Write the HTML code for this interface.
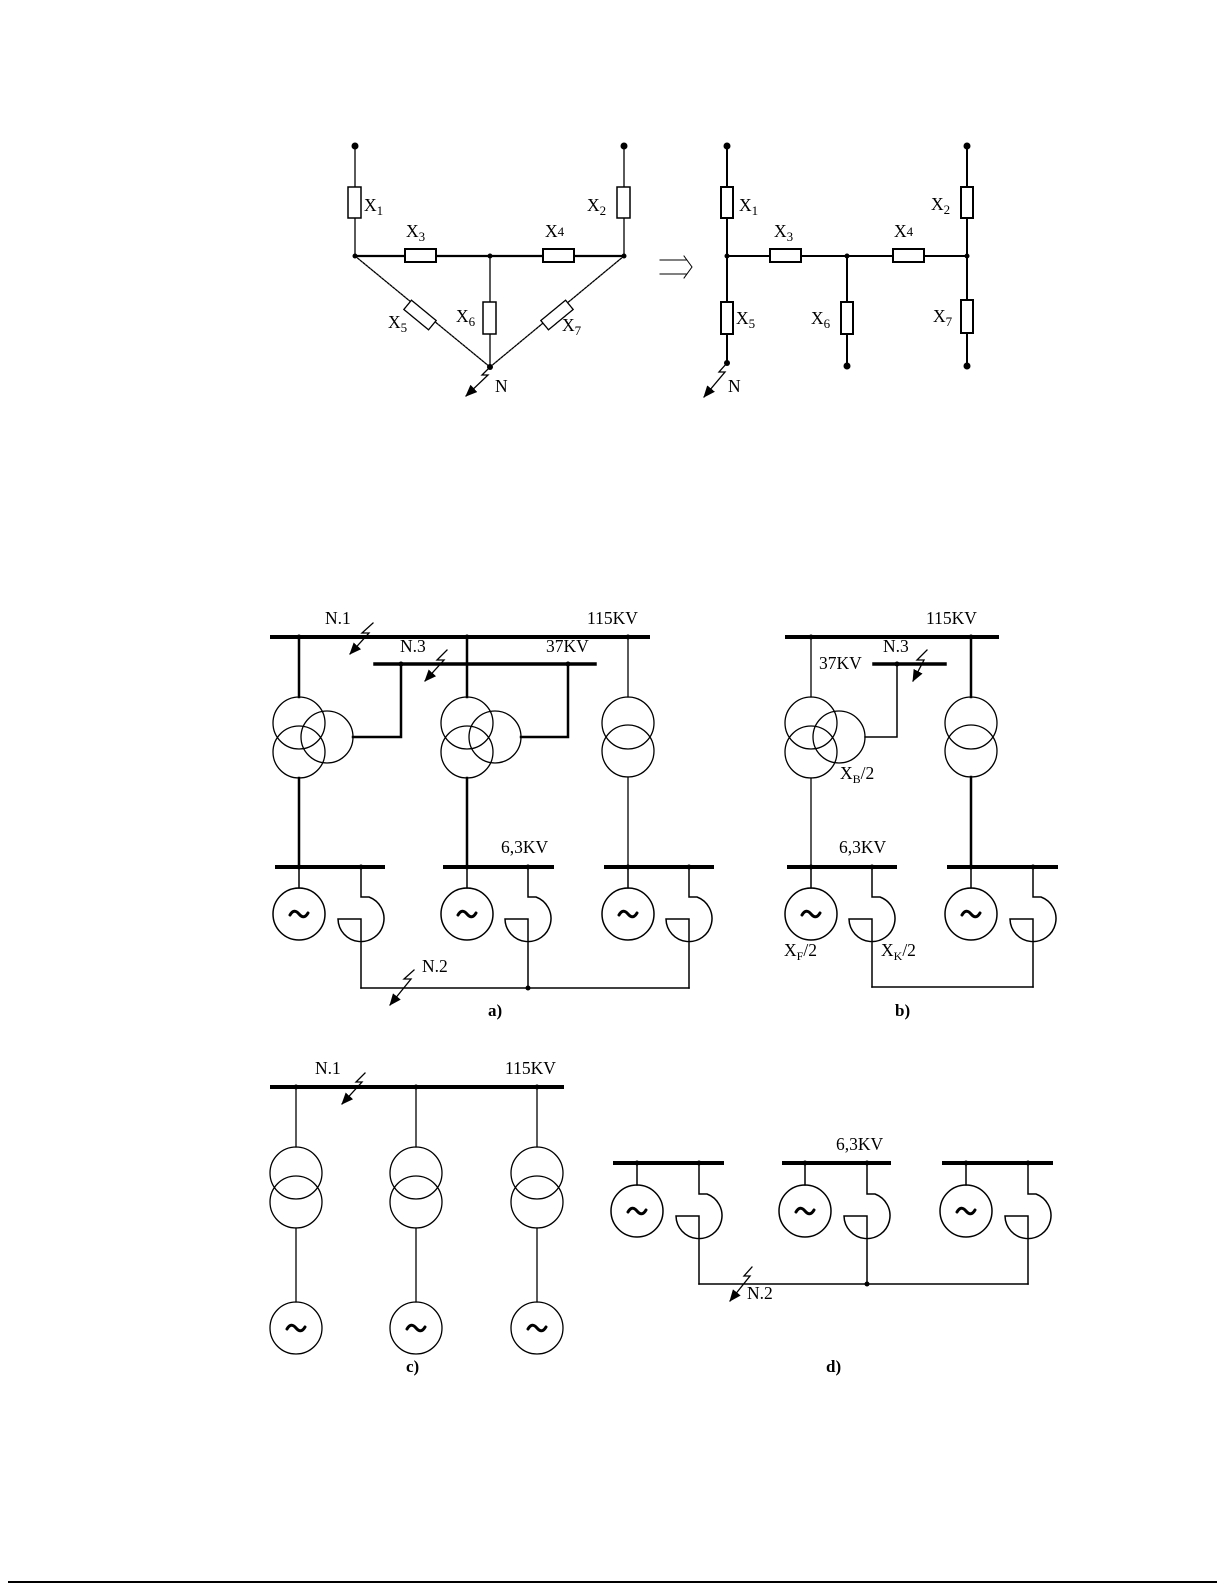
<!DOCTYPE html>
<html><head><meta charset="utf-8">
<style>
html,body{margin:0;padding:0;background:#fff;}
svg{display:block;}
text{font-family:"Liberation Serif",serif;font-size:17.5px;fill:#000;}
.b{font-weight:bold;font-size:17px;}
</style></head><body>
<svg width="1225" height="1585" viewBox="0 0 1225 1585" xmlns="http://www.w3.org/2000/svg">
<defs>
<marker id="ah" markerWidth="12" markerHeight="10" refX="11" refY="5" orient="auto" markerUnits="userSpaceOnUse">
<path d="M0,0 L12,5 L0,10 Z" fill="#000"/>
</marker>
</defs>
<line x1="8" y1="1582" x2="1217" y2="1582" stroke="#000" stroke-width="2"/>
<g fill="none" stroke="#000" stroke-linecap="square">

<!-- ===== TOP LEFT (delta) ===== -->
<g stroke-width="1.3">
<line x1="355" y1="146" x2="355" y2="187"/>
<line x1="355" y1="218" x2="355" y2="256"/>
<line x1="624" y1="146" x2="624" y2="187"/>
<line x1="624" y1="218" x2="624" y2="256"/>
<line x1="490" y1="256" x2="490" y2="302"/>
<line x1="490" y1="334" x2="490" y2="367"/>
<line x1="355" y1="256" x2="490" y2="367" stroke-dasharray="2,1.5"/>
<line x1="624" y1="256" x2="490" y2="367" stroke-dasharray="2,1.5"/>
</g>
<line x1="355" y1="256" x2="624" y2="256" stroke-width="2.2"/>
<rect x="348" y="187" width="13" height="31" fill="#fff" stroke-width="1.5"/>
<rect x="617" y="187" width="13" height="31" fill="#fff" stroke-width="1.5"/>
<rect x="405" y="249" width="31" height="13" fill="#fff" stroke-width="2"/>
<rect x="543" y="249" width="31" height="13" fill="#fff" stroke-width="2"/>
<rect x="483" y="302" width="13" height="32" fill="#fff" stroke-width="1.5"/>
<rect x="-16" y="-6" width="32" height="12" fill="#fff" stroke-width="1.3" stroke-dasharray="2,1" transform="translate(420,315) rotate(39.5)"/>
<rect x="-16" y="-6" width="32" height="12" fill="#fff" stroke-width="1.3" stroke-dasharray="2,1" transform="translate(557,315) rotate(-39.5)"/>
<polyline points="490,367 482,375 488,375 466,396" stroke-width="1.3" marker-end="url(#ah)"/>

<!-- arrow => -->
<path d="M660,260 H686 M660,274 H686 M684,256 L692,267 L684,278" stroke-width="1"/>

<!-- ===== TOP RIGHT (star) ===== -->
<g stroke-width="2">
<line x1="727" y1="146" x2="727" y2="363"/>
<line x1="967" y1="146" x2="967" y2="366"/>
<line x1="847" y1="256" x2="847" y2="366"/>
<line x1="727" y1="256" x2="967" y2="256"/>
</g>
<g fill="#fff" stroke-width="2">
<rect x="721" y="187" width="12" height="31"/>
<rect x="961" y="187" width="12" height="31"/>
<rect x="721" y="302" width="12" height="32"/>
<rect x="841" y="302" width="12" height="32"/>
<rect x="961" y="300" width="12" height="33"/>
<rect x="770" y="249" width="31" height="13"/>
<rect x="893" y="249" width="31" height="13"/>
</g>
<polyline points="727,363 719,372 725,372 704,397" stroke-width="1.3" marker-end="url(#ah)"/>

<!-- ===== FIG a ===== -->
<line x1="272" y1="637" x2="648" y2="637" stroke-width="4"/>
<line x1="375" y1="664" x2="595" y2="664" stroke-width="3.5"/>
<polyline points="373,623 362,633 369,633 350,654" stroke-width="1.3" marker-end="url(#ah)"/>
<polyline points="447,650 437,660 444,660 425,681" stroke-width="1.3" marker-end="url(#ah)"/>
<line x1="299" y1="637" x2="299" y2="697" stroke-width="2.5"/>
<circle cx="299" cy="723" r="26" stroke-width="1.3"/>
<circle cx="299" cy="752" r="26" stroke-width="1.3"/>
<circle cx="327" cy="737" r="26" stroke-width="1.3"/>
<polyline points="353,737 401,737 401,664" stroke-width="2.5"/>
<line x1="299" y1="778" x2="299" y2="867" stroke-width="2.5"/>
<line x1="467" y1="637" x2="467" y2="697" stroke-width="2.5"/>
<circle cx="467" cy="723" r="26" stroke-width="1.3"/>
<circle cx="467" cy="752" r="26" stroke-width="1.3"/>
<circle cx="495" cy="737" r="26" stroke-width="1.3"/>
<polyline points="521,737 568,737 568,664" stroke-width="2.5"/>
<line x1="467" y1="778" x2="467" y2="867" stroke-width="2.5"/>
<line x1="628" y1="637" x2="628" y2="697" stroke-width="1.3"/>
<circle cx="628" cy="723" r="26" stroke-width="1.3"/>
<circle cx="628" cy="751" r="26" stroke-width="1.3"/>
<line x1="628" y1="777" x2="628" y2="867" stroke-width="1.3"/>
<line x1="277" y1="867" x2="383" y2="867" stroke-width="4"/>
<line x1="445" y1="867" x2="552" y2="867" stroke-width="4"/>
<line x1="606" y1="867" x2="712" y2="867" stroke-width="4"/>
<g stroke-width="1.5">
<line x1="299" y1="867" x2="299" y2="888"/><circle cx="299" cy="914" r="26"/>
<line x1="467" y1="867" x2="467" y2="888"/><circle cx="467" cy="914" r="26"/>
<line x1="628" y1="867" x2="628" y2="888"/><circle cx="628" cy="914" r="26"/>
</g>
<g stroke-width="1.5">
<path d="M361,867 V897 H369 A23,23 0 1 1 338,919 H361 V988"/>
<path d="M528,867 V897 H536 A23,23 0 1 1 505,919 H528 V988"/>
<path d="M689,867 V897 H697 A23,23 0 1 1 666,919 H689 V988"/>
<line x1="361" y1="988" x2="689" y2="988"/>
</g>
<polyline points="414,970 404,979 411,979 390,1005" stroke-width="1.3" marker-end="url(#ah)"/>

<!-- ===== FIG b ===== -->
<line x1="787" y1="637" x2="997" y2="637" stroke-width="4"/>
<line x1="874" y1="664" x2="945" y2="664" stroke-width="3.5"/>
<polyline points="927,650 917,660 924,660 913,681" stroke-width="1.3" marker-end="url(#ah)"/>
<line x1="811" y1="637" x2="811" y2="697" stroke-width="1.3"/>
<circle cx="811" cy="723" r="26" stroke-width="1.3"/>
<circle cx="811" cy="752" r="26" stroke-width="1.3"/>
<circle cx="839" cy="737" r="26" stroke-width="1.3"/>
<polyline points="865,737 897,737 897,664" stroke-width="1.5"/>
<line x1="811" y1="778" x2="811" y2="867" stroke-width="1.3"/>
<line x1="971" y1="637" x2="971" y2="697" stroke-width="2.5"/>
<circle cx="971" cy="723" r="26" stroke-width="1.3"/>
<circle cx="971" cy="751" r="26" stroke-width="1.3"/>
<line x1="971" y1="777" x2="971" y2="867" stroke-width="2.5"/>
<line x1="789" y1="867" x2="895" y2="867" stroke-width="4"/>
<line x1="949" y1="867" x2="1056" y2="867" stroke-width="4"/>
<g stroke-width="1.5">
<line x1="811" y1="867" x2="811" y2="888"/><circle cx="811" cy="914" r="26"/>
<line x1="971" y1="867" x2="971" y2="888"/><circle cx="971" cy="914" r="26"/>
<path d="M872,867 V897 H880 A23,23 0 1 1 849,919 H872 V987"/>
<path d="M1033,867 V897 H1041 A23,23 0 1 1 1010,919 H1033 V987"/>
<line x1="872" y1="987" x2="1033" y2="987"/>
</g>

<!-- ===== FIG c ===== -->
<line x1="272" y1="1087" x2="562" y2="1087" stroke-width="4"/>
<polyline points="365,1073 356,1082 362,1082 342,1104" stroke-width="1.3" marker-end="url(#ah)"/>
<g stroke-width="1.3">
<line x1="296" y1="1087" x2="296" y2="1147"/>
<circle cx="296" cy="1173" r="26"/><circle cx="296" cy="1202" r="26"/>
<line x1="296" y1="1228" x2="296" y2="1302"/><circle cx="296" cy="1328" r="26"/>
<line x1="416" y1="1087" x2="416" y2="1147"/>
<circle cx="416" cy="1173" r="26"/><circle cx="416" cy="1202" r="26"/>
<line x1="416" y1="1228" x2="416" y2="1302"/><circle cx="416" cy="1328" r="26"/>
<line x1="537" y1="1087" x2="537" y2="1147"/>
<circle cx="537" cy="1173" r="26"/><circle cx="537" cy="1202" r="26"/>
<line x1="537" y1="1228" x2="537" y2="1302"/><circle cx="537" cy="1328" r="26"/>
</g>

<!-- ===== FIG d ===== -->
<line x1="615" y1="1163" x2="722" y2="1163" stroke-width="4"/>
<line x1="784" y1="1163" x2="889" y2="1163" stroke-width="4"/>
<line x1="944" y1="1163" x2="1051" y2="1163" stroke-width="4"/>
<g stroke-width="1.5">
<line x1="637" y1="1163" x2="637" y2="1185"/><circle cx="637" cy="1211" r="26"/>
<line x1="805" y1="1163" x2="805" y2="1185"/><circle cx="805" cy="1211" r="26"/>
<line x1="966" y1="1163" x2="966" y2="1185"/><circle cx="966" cy="1211" r="26"/>
<path d="M699,1163 V1194 H707 A23,23 0 1 1 676,1216 H699 V1284"/>
<path d="M867,1163 V1194 H875 A23,23 0 1 1 844,1216 H867 V1284"/>
<path d="M1028,1163 V1194 H1036 A23,23 0 1 1 1005,1216 H1028 V1284"/>
<line x1="699" y1="1284" x2="1028" y2="1284"/>
</g>
<polyline points="752,1267 744,1276 750,1276 730,1301" stroke-width="1.3" marker-end="url(#ah)"/>

<g stroke-width="3" stroke-linecap="round">
<path d="M290,915 q4,-7 9,-1 t9,-1"/>
<path d="M458,915 q4,-7 9,-1 t9,-1"/>
<path d="M619,915 q4,-7 9,-1 t9,-1"/>
<path d="M802,915 q4,-7 9,-1 t9,-1"/>
<path d="M962,915 q4,-7 9,-1 t9,-1"/>
<path d="M287,1329 q4,-7 9,-1 t9,-1"/>
<path d="M407,1329 q4,-7 9,-1 t9,-1"/>
<path d="M528,1329 q4,-7 9,-1 t9,-1"/>
<path d="M628,1212 q4,-7 9,-1 t9,-1"/>
<path d="M796,1212 q4,-7 9,-1 t9,-1"/>
<path d="M957,1212 q4,-7 9,-1 t9,-1"/>
</g>
</g>

<g fill="#000">
<circle cx="355" cy="146" r="3.5"/><circle cx="624" cy="146" r="3.5"/>
<circle cx="355" cy="256" r="2.5"/><circle cx="490" cy="256" r="2.5"/><circle cx="624" cy="256" r="2.5"/><circle cx="490" cy="367" r="3"/>
<circle cx="727" cy="146" r="3.5"/><circle cx="967" cy="146" r="3.5"/>
<circle cx="727" cy="256" r="2.5"/><circle cx="847" cy="256" r="2.5"/><circle cx="967" cy="256" r="2.5"/>
<circle cx="727" cy="363" r="3"/><circle cx="847" cy="366" r="3.5"/><circle cx="967" cy="366" r="3.5"/>
<circle cx="299" cy="637" r="2.5"/><circle cx="467" cy="637" r="2.5"/><circle cx="628" cy="637" r="2.5"/>
<circle cx="401" cy="664" r="2.5"/><circle cx="568" cy="664" r="2.5"/>
<circle cx="299" cy="867" r="2.5"/><circle cx="361" cy="867" r="2.5"/><circle cx="467" cy="867" r="2.5"/><circle cx="528" cy="867" r="2.5"/><circle cx="628" cy="867" r="2.5"/><circle cx="689" cy="867" r="2.5"/>
<circle cx="528" cy="988" r="2.5"/>
<circle cx="811" cy="637" r="2.5"/><circle cx="971" cy="637" r="2.5"/><circle cx="897" cy="664" r="2.5"/>
<circle cx="811" cy="867" r="2.5"/><circle cx="872" cy="867" r="2.5"/><circle cx="971" cy="867" r="2.5"/><circle cx="1033" cy="867" r="2.5"/>
<circle cx="296" cy="1087" r="2.5"/><circle cx="416" cy="1087" r="2.5"/><circle cx="537" cy="1087" r="2.5"/>
<circle cx="637" cy="1163" r="2.5"/><circle cx="699" cy="1163" r="2.5"/><circle cx="805" cy="1163" r="2.5"/><circle cx="867" cy="1163" r="2.5"/><circle cx="966" cy="1163" r="2.5"/><circle cx="1028" cy="1163" r="2.5"/>
<circle cx="867" cy="1284" r="2.5"/>
</g>

<text x="364" y="211">X<tspan font-size="13" dy="4">1</tspan></text>
<text x="587" y="211">X<tspan font-size="13" dy="4">2</tspan></text>
<text x="406" y="237">X<tspan font-size="13" dy="4">3</tspan></text>
<text x="545" y="237">X<tspan font-size="13" dy="-1">4</tspan></text>
<text x="388" y="328">X<tspan font-size="13" dy="4">5</tspan></text>
<text x="456" y="322">X<tspan font-size="13" dy="4">6</tspan></text>
<text x="562" y="331">X<tspan font-size="13" dy="4">7</tspan></text>
<text x="495" y="392">N</text>
<text x="739" y="211">X<tspan font-size="13" dy="4">1</tspan></text>
<text x="931" y="210">X<tspan font-size="13" dy="4">2</tspan></text>
<text x="774" y="237">X<tspan font-size="13" dy="4">3</tspan></text>
<text x="894" y="237">X<tspan font-size="13" dy="-1">4</tspan></text>
<text x="736" y="324">X<tspan font-size="13" dy="4">5</tspan></text>
<text x="811" y="324">X<tspan font-size="13" dy="4">6</tspan></text>
<text x="933" y="322">X<tspan font-size="13" dy="4">7</tspan></text>
<text x="728" y="392">N</text>

<text x="325" y="624">N.1</text>
<text x="587" y="624">115KV</text>
<text x="400" y="652">N.3</text>
<text x="546" y="652">37KV</text>
<text x="501" y="853">6,3KV</text>
<text x="422" y="972">N.2</text>
<text x="488" y="1016" class="b">a)</text>

<text x="926" y="624">115KV</text>
<text x="819" y="669">37KV</text>
<text x="883" y="652">N.3</text>
<text x="840" y="779">X<tspan font-size="12" dy="4">B</tspan><tspan dy="-4">/2</tspan></text>
<text x="839" y="853">6,3KV</text>
<text x="784" y="956">X<tspan font-size="12" dy="4">F</tspan><tspan dy="-4">/2</tspan></text>
<text x="881" y="956">X<tspan font-size="12" dy="4">K</tspan><tspan dy="-4">/2</tspan></text>
<text x="895" y="1016" class="b">b)</text>

<text x="315" y="1074">N.1</text>
<text x="505" y="1074">115KV</text>
<text x="406" y="1372" class="b">c)</text>
<text x="836" y="1150">6,3KV</text>
<text x="747" y="1299">N.2</text>
<text x="826" y="1372" class="b">d)</text>
</svg>
</body></html>
